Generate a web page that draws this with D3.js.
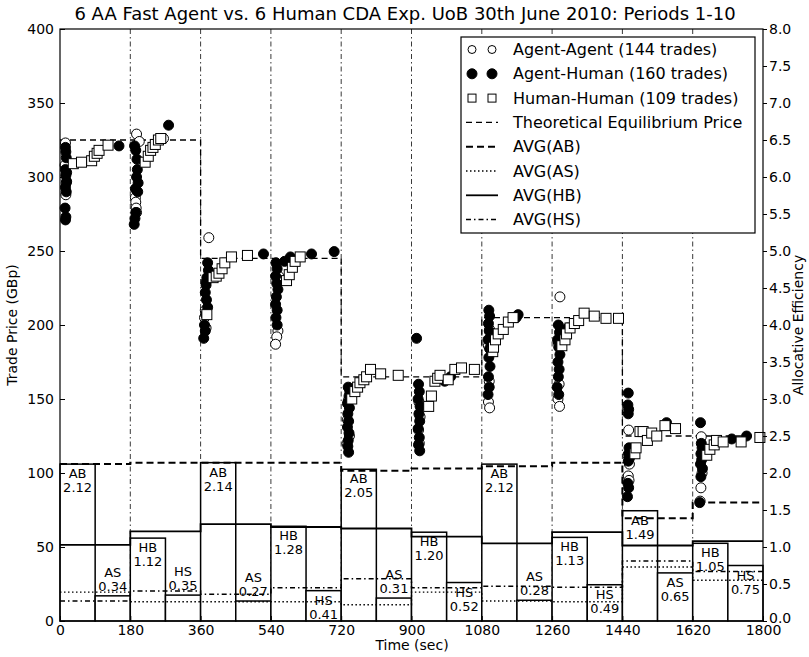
<!DOCTYPE html>
<html>
<head>
<meta charset="utf-8">
<script src="https://cdn.jsdelivr.net/npm/d3@7"></script>
<style>
  body { margin: 0; background: #fff; }
  text { font-family: "DejaVu Sans", sans-serif; fill: #000; }
</style>
</head>
<body>
<div id="chart"></div>
<script>
// per-period values (10 periods of 180 sec)
const periodLength = 180;
const eqPrice = [325, 325, 245, 245, 165, 165, 205, 205, 125, 125];
const avgAB = [2.12, 2.14, 2.14, 2.14, 2.03, 2.06, 2.09, 2.14, 1.39, 1.60];
const avgAS = [0.39, 0.26, 0.26, 0.26, 0.22, 0.39, 0.27, 0.26, 0.73, 0.55];
const avgHB = [1.03, 1.21, 1.31, 1.27, 1.25, 1.14, 1.05, 1.20, 1.02, 1.08];
const avgHS = [0.27, 0.405, 0.36, 0.45, 0.57, 0.45, 0.47, 0.455, 0.81, 0.67];

// bars: odd periods show AB/AS, even periods HB/HS
const buyerNames = ["AB", "HB", "AB", "HB", "AB", "HB", "AB", "HB", "AB", "HB"];
const sellerNames = ["AS", "HS", "AS", "HS", "AS", "HS", "AS", "HS", "AS", "HS"];
const buyerValues = [2.12, 1.12, 2.14, 1.28, 2.05, 1.20, 2.12, 1.13, 1.49, 1.05];
const sellerValues = [0.34, 0.35, 0.27, 0.41, 0.31, 0.52, 0.28, 0.49, 0.65, 0.75];

// trades [time (sec), price]
const agentAgent = [
  [14,323],[13,308],[15,288],[16,296],
  [196,329],[203,324],[193,286],[194,283],[195,279],[196,276],[265,326],
  [381,259],[372,210],[370,205],[374,198],
  [558,196],[555,192],[552,187],[560,233],
  [738,149],[736,136],[741,125],[735,120],
  [919,148],[922,138],[918,129],[920,120],
  [1100,197],[1097,186],[1099,162],[1097,148],[1100,144],
  [1280,219],[1276,188],[1278,160],[1275,150],[1279,145],
  [1456,129],[1458,106],[1455,98],[1457,95],[1454,112],
  [1642,124.5],[1644,100],[1641,90],[1639,81]
];
const agentHuman = [
  [14,320],[15,317],[16,313],[14,305],[17,303],[15,301],[17,297],[14,293],[16,290],[13,279],[14,271],[15,273],[151,321],
  [191,321],[194,318],[197,312],[198,305],[196,300],[200,296],[193,292],[199,290],[194,276],[192,272],[190,268],[278,335],
  [378,242],[380,237],[376,232],[374,227],[372,222],[375,217],[378,212],[373,207],[370,200],[372,196],[368,191],[374,229],[521,248],
  [553,242],[556,238],[552,233],[555,228],[558,224],[554,219],[552,214],[556,210],[553,205],[556,200],[575,243],[590,246],[644,248],[702,249.6],
  [738,158],[740,152],[742,155],[736,147],[741,144],[737,140],[739,135],[736,131],[740,127],[738,122],[737,118],[739,114],
  [913,191],[918,160],[920,155],[917,150],[922,145],[919,140],[921,135],[917,130],[920,124],[918,119],[921,115],[985,162],[1000,165],
  [1098,210],[1100,206],[1097,201],[1099,196],[1096,190],[1100,184],[1098,178],[1101,172],[1097,165],[1099,158],[1096,153],[1168,205],[1173,207],
  [1276,200],[1279,195],[1274,190],[1277,185],[1280,180],[1275,175],[1278,170],[1276,165],[1273,158],[1277,153],[1300,198],
  [1455,154],[1454,146],[1456,143],[1455,140],[1457,117],[1456,113],[1458,110],[1455,108],[1454,93],[1456,90],[1453,84],[1553,134],
  [1640,134],[1642,120],[1644,117],[1641,113],[1643,109],[1640,106],[1645,103],[1641,97.5],[1638,80],[1720,123],[1758,125]
];
const humanHuman = [
  [34,309],[55,310],[81,311],[88,314],[95,316],[100,318],[123,321.5],
  [218,310],[226,314],[232,318],[238,320],[244,322],[252,325],[258,326],
  [376,207],[392,232],[400,233],[407,235],[415,238],[422,242],[439,246],[480,247],
  [580,230],[587,234],[595,239],[602,243],[615,246],
  [747,150],[755,155],[762,158],[768,161],[778,163],[785,165],[795,170],[821,167],[866,166],
  [944,145],[951,152],[960,162],[967,164],[973,166],[994,163],[1011,170],[1028,171],[1061,170],
  [1108,182],[1110,185],[1115,190],[1122,194],[1135,197],[1148,202],[1160,205],
  [1285,186],[1293,190],[1297,194],[1306,198],[1317,201],[1328,203],[1342,208],[1368,206],[1398,204.5],[1430,204.5],
  [1472,113],[1475,117],[1485,128],[1493,128],[1504,122],[1515,127],[1528,125],[1549,132],[1576,130],
  [1656,112],[1664,116],[1675,119],[1681,122],[1698,121],[1744,121],[1792,124]
];

const xTicks = [0, 180, 360, 540, 720, 900, 1080, 1260, 1440, 1620, 1800];
const priceTicks = [0, 50, 100, 150, 200, 250, 300, 350, 400];
const effTicks = d3.range(0, 8.01, 0.5);

const legendItems = [
  { label: "Agent-Agent (144 trades)", kind: "open" },
  { label: "Agent-Human (160 trades)", kind: "filled" },
  { label: "Human-Human (109 trades)", kind: "square" },
  { label: "Theoretical Equilibrium Price", kind: "eq" },
  { label: "AVG(AB)", kind: "ab" },
  { label: "AVG(AS)", kind: "as" },
  { label: "AVG(HB)", kind: "hb" },
  { label: "AVG(HS)", kind: "hs" }
];

const lineStyles = {
  eq: { w: 1.3, dash: "6,4" },
  ab: { w: 2, dash: "7,4" },
  as: { w: 1.4, dash: "1.5,2.5" },
  hb: { w: 1.8, dash: null },
  hs: { w: 1.5, dash: "5,3,1.5,3" }
};

const W = 809, H = 657;
const mLeft = 60, mRight = 763, mTop = 29, mBottom = 621;

const svg = d3.select("#chart").append("svg")
  .attr("width", W)
  .attr("height", H);

const x = d3.scaleLinear().domain([0, 1800]).range([mLeft, mRight]);
const yP = d3.scaleLinear().domain([0, 400]).range([mBottom, mTop]);
const yE = d3.scaleLinear().domain([0, 8]).range([mBottom, mTop]);

// period boundaries
svg.append("g").selectAll("line")
  .data(xTicks.slice(1, -1))
  .join("line")
  .attr("x1", d => x(d)).attr("x2", d => x(d))
  .attr("y1", mTop).attr("y2", mBottom)
  .attr("stroke", "#222")
  .attr("stroke-width", 0.9)
  .attr("stroke-dasharray", "5,3,1.5,3");

// bars
const bars = [];
buyerValues.forEach((v, i) => {
  const s = i * periodLength;
  bars.push({ x0: s, x1: s + periodLength / 2, v: v, name: buyerNames[i] });
  bars.push({ x0: s + periodLength / 2, x1: s + periodLength, v: sellerValues[i], name: sellerNames[i] });
});

svg.append("g").selectAll("rect")
  .data(bars)
  .join("rect")
  .attr("x", d => x(d.x0))
  .attr("width", d => x(d.x1) - x(d.x0))
  .attr("y", d => yE(d.v))
  .attr("height", d => yE(0) - yE(d.v))
  .attr("fill", "#fff")
  .attr("stroke", "#000")
  .attr("stroke-width", 1.5);

// step lines
function stepPoints(vals, scale) {
  const pts = [];
  vals.forEach((v, i) => {
    pts.push([x(i * periodLength), scale(v)]);
    pts.push([x((i + 1) * periodLength), scale(v)]);
  });
  return pts;
}

const line = d3.line();
function drawStep(vals, scale, style) {
  svg.append("path")
    .attr("d", line(stepPoints(vals, scale)))
    .attr("fill", "none")
    .attr("stroke", "#000")
    .attr("stroke-width", style.w)
    .attr("stroke-dasharray", style.dash);
}

drawStep(eqPrice, yP, lineStyles.eq);
drawStep(avgAB, yE, lineStyles.ab);
drawStep(avgAS, yE, lineStyles.as);
drawStep(avgHB, yE, lineStyles.hb);
drawStep(avgHS, yE, lineStyles.hs);

// bar labels
const lab = svg.append("g").selectAll("g")
  .data(bars)
  .join("g")
  .attr("transform", d => {
    const cx = x((d.x0 + d.x1) / 2);
    const yt = d.v >= 0.4 ? yE(d.v) + 14 : yE(d.v) - 19;
    return `translate(${cx},${yt})`;
  });
lab.append("text")
  .attr("text-anchor", "middle")
  .attr("font-size", 13)
  .text(d => d.name);
lab.append("text")
  .attr("text-anchor", "middle")
  .attr("font-size", 13)
  .attr("y", 14)
  .text(d => d.v.toFixed(2));

// trades
const R = 5;
svg.append("g").selectAll("circle")
  .data(agentAgent)
  .join("circle")
  .attr("cx", d => x(d[0])).attr("cy", d => yP(d[1]))
  .attr("r", R).attr("fill", "#fff").attr("stroke", "#000").attr("stroke-width", 1);
svg.append("g").selectAll("circle")
  .data(agentHuman)
  .join("circle")
  .attr("cx", d => x(d[0])).attr("cy", d => yP(d[1]))
  .attr("r", R).attr("fill", "#000").attr("stroke", "#000").attr("stroke-width", 1);
svg.append("g").selectAll("rect")
  .data(humanHuman)
  .join("rect")
  .attr("x", d => x(d[0]) - R).attr("y", d => yP(d[1]) - R)
  .attr("width", 2 * R).attr("height", 2 * R)
  .attr("fill", "#fff").attr("stroke", "#000").attr("stroke-width", 1);

// frame
svg.append("rect")
  .attr("x", mLeft).attr("y", mTop)
  .attr("width", mRight - mLeft).attr("height", mBottom - mTop)
  .attr("fill", "none").attr("stroke", "#000").attr("stroke-width", 1.2);

// axes
const axL = svg.append("g")
  .attr("transform", `translate(${mLeft},0)`)
  .call(d3.axisLeft(yP).tickValues(priceTicks).tickSizeInner(-5).tickSizeOuter(0).tickPadding(6));
const axR = svg.append("g")
  .attr("transform", `translate(${mRight},0)`)
  .call(d3.axisRight(yE).tickValues(effTicks).tickSizeInner(4).tickSizeOuter(0).tickPadding(2).tickFormat(d3.format(".1f")));
const axB = svg.append("g")
  .attr("transform", `translate(0,${mBottom})`)
  .call(d3.axisBottom(x).tickValues(xTicks).tickSizeInner(-5).tickSizeOuter(0).tickPadding(4).tickFormat(d3.format("d")));
[axL, axR, axB].forEach(a => {
  a.select(".domain").remove();
  a.selectAll("text").attr("font-size", 14).attr("font-family", "DejaVu Sans").attr("fill", "#000");
});
axR.selectAll(".tick").filter(d => d === 0).select("text").attr("dy", "0.1em");

// titles
svg.append("text")
  .attr("x", 405).attr("y", 20)
  .attr("text-anchor", "middle")
  .attr("font-size", 18)
  .text("6 AA Fast Agent vs. 6 Human CDA Exp. UoB 30th June 2010: Periods 1-10");
svg.append("text")
  .attr("x", 412).attr("y", 650)
  .attr("text-anchor", "middle")
  .attr("font-size", 14)
  .text("Time (sec)");
svg.append("text")
  .attr("transform", `translate(17,${(mTop + mBottom) / 2}) rotate(-90)`)
  .attr("text-anchor", "middle")
  .attr("font-size", 14)
  .text("Trade Price (GBp)");
svg.append("text")
  .attr("transform", `translate(803,${(mTop + mBottom) / 2}) rotate(-90)`)
  .attr("text-anchor", "middle")
  .attr("font-size", 14)
  .text("Allocative Efficiency");

// legend
const lg = svg.append("g");
lg.append("rect")
  .attr("x", 461).attr("y", 37).attr("width", 294).attr("height", 196)
  .attr("fill", "#fff").attr("stroke", "#000").attr("stroke-width", 1.2);
const rowH = 24.3;
legendItems.forEach((it, i) => {
  const cy = 49.5 + i * rowH;
  if (it.kind === "open" || it.kind === "filled") {
    [472, 492].forEach(mx => lg.append("circle")
      .attr("cx", mx).attr("cy", cy).attr("r", it.kind === "open" ? 4 : 5)
      .attr("fill", it.kind === "open" ? "#fff" : "#000")
      .attr("stroke", "#000").attr("stroke-width", 1));
  } else if (it.kind === "square") {
    [472, 492].forEach(mx => lg.append("rect")
      .attr("x", mx - 4).attr("y", cy - 4).attr("width", 8).attr("height", 8)
      .attr("fill", "#fff").attr("stroke", "#000").attr("stroke-width", 1));
  } else {
    const st = lineStyles[it.kind];
    lg.append("line")
      .attr("x1", 466).attr("x2", 498).attr("y1", cy).attr("y2", cy)
      .attr("stroke", "#000").attr("stroke-width", st.w)
      .attr("stroke-dasharray", st.dash);
  }
  lg.append("text")
    .attr("x", 513).attr("y", cy + 5.5)
    .attr("font-size", 16)
    .text(it.label);
});
</script>
</body>
</html>
